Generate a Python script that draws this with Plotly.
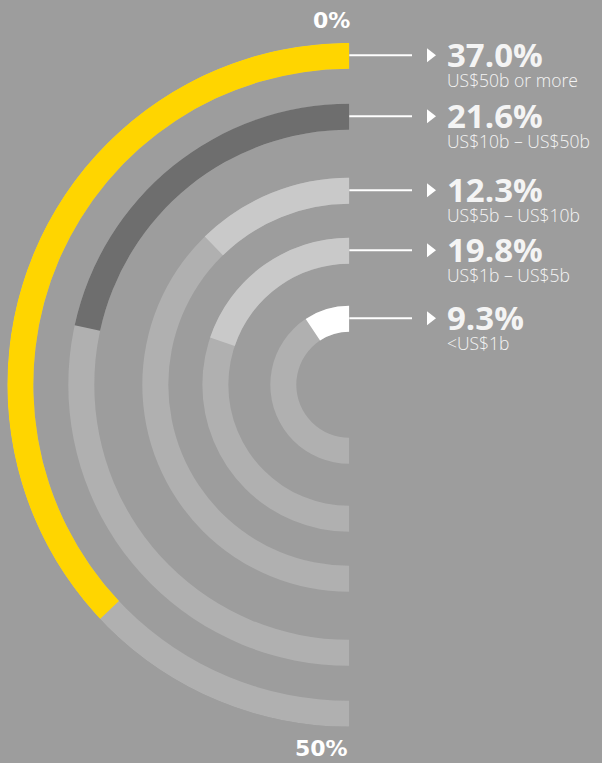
import plotly.graph_objects as go

# ---- data ----
categories = ["US$50b or more", "US$10b – US$50b", "US$5b – US$10b", "US$1b – US$5b", "<US$1b"]
values = [37.0, 21.6, 12.3, 19.8, 9.3]
scale_max = 50.0
scale_labels = ["0%", "50%"]
bar_colors = ["#ffd500", "#6e6e6e", "#c9c9c9", "#c9c9c9", "#ffffff"]

# ---- layout / style constants ----
W, H = 602, 763
BG = "#9d9d9d"
TRACK = "#b0b0b0"
CX, CY = 349.3, 384.8          # pixel centre of the half-rings
R_MAX = 342.0                  # outer radius (px)
ring_outer = [342, 281, 207, 147, 79]
THICK = 26

fig = go.Figure()

deg_per_unit = 180.0 / scale_max

# background tracks
for ro in ring_outer:
    fig.add_trace(go.Barpolar(
        r=[THICK], base=[ro - THICK], theta=[90], width=[180],
        marker=dict(color=TRACK, line=dict(width=0)),
        hoverinfo="skip", showlegend=False))

# value arcs
for v, ro, c in zip(values, ring_outer, bar_colors):
    span = v * deg_per_unit
    fig.add_trace(go.Barpolar(
        r=[THICK], base=[ro - THICK], theta=[span / 2], width=[span],
        marker=dict(color=c, line=dict(width=0)),
        hoverinfo="skip", showlegend=False))

# connector pointers (triangles) on a pixel-space overlay axis
ring_mid = [CY - (ro - THICK / 2) - 0.5 for ro in ring_outer]
fig.add_trace(go.Scatter(
    x=[430] * len(values), y=ring_mid, mode="markers",
    marker=dict(symbol="triangle-right", size=12, color="white", line=dict(width=0)),
    hoverinfo="skip", showlegend=False, xaxis="x", yaxis="y"))

shapes = []
annotations = []
for v, cat, ym in zip(values, categories, ring_mid):
    shapes.append(dict(type="line", xref="x", yref="y", x0=CX, x1=412, y0=ym, y1=ym,
                       line=dict(color="white", width=2)))
    annotations.append(dict(
        xref="x", yref="y", x=446, y=ym - 24, xanchor="left", yanchor="top",
        borderpad=0, align="left", showarrow=False,
        text=f"<b><span style='font-size:33px'>{v:.1f}%</span></b><br>"
             f"<span style='font-size:17.5px'>{cat}</span>",
        font=dict(family="Open Sans", size=15, color="#f4f4f4", weight=300)))

label_font = dict(family="DejaVu Sans", size=22, color="white", weight=700)
annotations.append(dict(xref="x", yref="y", x=CX + 2, y=CY - R_MAX - 22, xanchor="right", yanchor="middle",
                        text=scale_labels[0], showarrow=False, borderpad=0, font=label_font))
annotations.append(dict(xref="x", yref="y", x=CX, y=CY + R_MAX + 22, xanchor="right", yanchor="middle",
                        text=scale_labels[1], showarrow=False, borderpad=0, font=label_font))

fig.update_layout(
    width=W, height=H,
    margin=dict(l=0, r=0, t=0, b=0),
    paper_bgcolor=BG, plot_bgcolor="rgba(0,0,0,0)",
    showlegend=False,
    polar=dict(
        domain=dict(x=[(CX - R_MAX) / W, CX / W],
                    y=[(H - (CY + R_MAX)) / H, (H - (CY - R_MAX)) / H]),
        sector=[90, 270],
        hole=0,
        barmode="overlay",
        bgcolor="rgba(0,0,0,0)",
        radialaxis=dict(range=[0, R_MAX], visible=False, showgrid=False),
        angularaxis=dict(rotation=90, direction="counterclockwise", visible=False,
                         showgrid=False),
    ),
    xaxis=dict(range=[0, W], visible=False, fixedrange=True, domain=[0, 1]),
    yaxis=dict(range=[H, 0], visible=False, fixedrange=True, domain=[0, 1]),
    shapes=shapes,
    annotations=annotations,
)

fig.write_html("out.html", config={"displayModeBar": False},
               post_script="document.body.style.margin='0';document.body.style.background='#9d9d9d';")
